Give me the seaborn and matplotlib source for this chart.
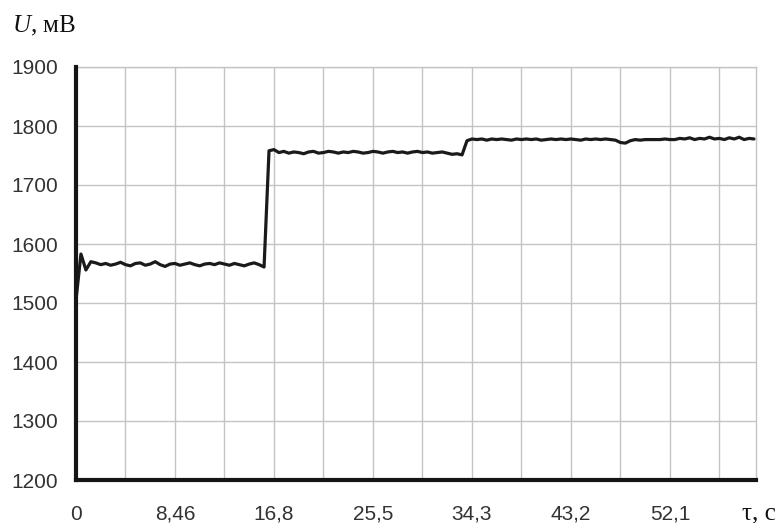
import numpy as np
import pandas as pd
import seaborn as sns
import matplotlib
matplotlib.use("Agg")
import matplotlib.pyplot as plt
from matplotlib.ticker import MultipleLocator, FixedLocator, FixedFormatter

# Recorded voltage, one reading per 0.1 of a time-grid division
u_mv = [
    1505, 1583, 1556, 1570, 1568, 1565, 1567, 1564, 1566, 1569,
    1565, 1563, 1567, 1568, 1564, 1566, 1570, 1565, 1562, 1566,
    1567, 1564, 1566, 1568, 1565, 1563, 1566, 1567, 1565, 1568,
    1566, 1564, 1567, 1565, 1563, 1566, 1568, 1565, 1561, 1758,
    1760, 1755, 1757, 1754, 1756, 1755, 1753, 1756, 1757, 1754,
    1755, 1757, 1756, 1754, 1756, 1755, 1757, 1756, 1754, 1755,
    1757, 1756, 1754, 1756, 1757, 1755, 1756, 1754, 1756, 1757,
    1755, 1756, 1754, 1755, 1756, 1754, 1752, 1753, 1751, 1775,
    1778, 1777, 1778, 1776, 1778, 1777, 1778, 1777, 1776, 1778,
    1777, 1778, 1777, 1778, 1776, 1777, 1778, 1777, 1778, 1777,
    1778, 1777, 1776, 1778, 1777, 1778, 1777, 1778, 1777, 1776,
    1772, 1771, 1775, 1777, 1776, 1777, 1777, 1777, 1777, 1778,
    1777, 1777, 1779, 1778, 1780, 1777, 1779, 1778, 1781, 1778,
    1779, 1777, 1780, 1778, 1781, 1777, 1779, 1778,
]

# Time labels shown on every second grid division
tick_labels = ["0", "8,46", "16,8", "25,5", "34,3", "43,2", "52,1"]
y_ticks = [1200, 1300, 1400, 1500, 1600, 1700, 1800, 1900]

df = pd.DataFrame({"t": np.arange(len(u_mv)) * 0.1, "u": u_mv})

sns.set_style("white")
plt.rcParams["font.family"] = ["Liberation Sans", "DejaVu Sans"]
plt.rcParams["mathtext.fontset"] = "custom"
plt.rcParams["mathtext.it"] = "Liberation Serif:italic"
plt.rcParams["mathtext.rm"] = "Liberation Serif"

fig = plt.figure(figsize=(7.82, 5.23), dpi=100)
ax = fig.add_axes([76 / 782, 1 - 480 / 523, 680 / 782, 413 / 523])

grid_c = "#c4c4c4"
sns.lineplot(data=df, x="t", y="u", ax=ax, color="#1a1a1a", linewidth=2.3)

ax.set_xlim(0, 13.74)
ax.set_ylim(1200, 1900)
ax.xaxis.set_major_locator(MultipleLocator(1))
xt = np.arange(0, 14)
ax.set_xticks(xt)
ax.set_xticklabels([tick_labels[i // 2] if i % 2 == 0 else "" for i in xt])
ax.set_yticks(y_ticks)
ax.set_yticklabels([str(v) for v in y_ticks])

ax.grid(True, color=grid_c, linewidth=1.0)
ax.set_axisbelow(True)

for side in ("left", "bottom"):
    ax.spines[side].set_color("#151515")
    ax.spines[side].set_linewidth(3.0)
    ax.spines[side].set_zorder(5)
for side in ("top", "right"):
    ax.spines[side].set_color(grid_c)
    ax.spines[side].set_linewidth(1.0)

ax.tick_params(axis="both", which="major", direction="out", length=5,
               width=1.0, color=grid_c, labelsize=15, labelcolor="#333333")
ax.tick_params(axis="y", pad=8)
ax.tick_params(axis="x", pad=13)
ax.set_xlabel("")
ax.set_ylabel("")

fig.text(12 / 782, 1 - 32 / 523, r"$U$, мВ", fontsize=18,
         family=["Liberation Serif", "DejaVu Serif"], color="#111111")
fig.text(742 / 782, 1 - 519 / 523, "τ, с", fontsize=18,
         family=["Liberation Serif", "DejaVu Serif"], color="#111111")

fig.savefig("out.png", dpi=100, facecolor="white")
